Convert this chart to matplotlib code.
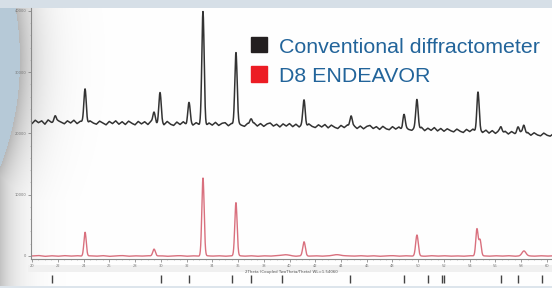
import numpy as np
import matplotlib.pyplot as plt
from matplotlib.patches import Rectangle

# posiciones (2theta) y alturas de picos
picos_conv_pos = [21.79, 24.12, 29.48, 29.94, 32.19, 33.28, 35.84, 37.01, 41.13,
                  44.78, 48.89, 49.90, 54.64, 56.43, 57.75, 58.21]
picos_conv_alt = [1150, 5550, 1800, 4900, 3350, 18100, 11800, 1050, 4250,
                  1950, 2300, 4800, 6350, 1000, 1250, 1500]

picos_d8_pos = [24.12, 29.48, 33.28, 35.84, 39.65, 41.13, 43.77, 49.90, 54.56, 54.80, 58.21]
picos_d8_alt = [3900, 1150, 12700, 8650, 200, 2280, 200, 3400, 4400, 2600, 800]
picos_d8_anc = [0.09, 0.10, 0.09, 0.09, 0.30, 0.10, 0.30, 0.10, 0.09, 0.09, 0.15]

# fondo (con ruido) del difractometro convencional, cada 0.25 grados desde 20
fondo_conv = [21600, 22150, 21750, 22050, 21500, 22200, 21800, 21650, 22100, 21850,
              21550, 22050, 21700, 22150, 21600, 22000, 21850, 21550, 22050, 21700,
              21500, 22000, 21700, 21400, 21950, 21600, 22050, 21500, 21900, 21450,
              22000, 21650, 21400, 21950, 21550, 21900, 21450, 22000, 21650, 21500,
              21850, 21400, 21950, 21500, 21300, 21850, 21450, 21900, 21400, 21800,
              21350, 21750, 21400, 21850, 21250, 21700, 21350, 21800, 21300, 21650,
              21750, 21250, 21650, 21200, 21700, 21350, 21150, 21650, 21300, 21700,
              21200, 21600, 21150, 21550, 21700, 21200, 21500, 21050, 21550, 21200,
              21600, 21100, 21500, 21050, 21450, 21000, 21550, 21150, 20950, 21400,
              21050, 21450, 20900, 21350, 21000, 20800, 21300, 20950, 21400, 20850,
              21250, 20800, 21200, 20750, 21150, 21300, 20800, 21100, 20650, 21150,
              20750, 20600, 21100, 20700, 21050, 20550, 21000, 20650, 20500, 20950,
              20600, 21000, 20450, 20850, 20500, 20950, 20400, 20800, 20350, 20750,
              20450, 20250, 20700, 20350, 20150, 20650, 20300, 20700, 20200, 20550,
              20150, 20550, 20050, 20450, 20000, 20400, 19950, 20350, 19900, 20300,
              19950, 19800, 20250, 19750, 20150, 19700, 20100, 19750, 19600, 20050,
              19700, 19550, 19950]

# fondo del D8 ENDEAVOR, cada 0.5 grados desde 20
fondo_d8 = [0, 80, -60, 40, -40, 60, -20, 50, -50, 30,
            -30, 60, -60, 20, 70, -40, 30, -20, 50, -30,
            40, -50, 20, 60, -40, 30, -30, 50, -20, 40,
            -40, 20, 60, -30, 40, -50, 30, -20, 50, -10,
            30, -40, 50, -20, 40, -30, 20, 60, -40, 30,
            -20, 50, -30, 40, -50, 20, 60, -30, 40, -20,
            30, -40, 50, -20, 40, -30, 20, -40, 50, -10,
            30, -30, 40, -20, 50, -40, 20, 30, -30, 40,
            -20, 30]

# lineas de referencia (barras abajo)
referencia = [21.55, 30.02, 32.19, 35.53, 37.01, 39.42, 44.70, 48.89, 50.76,
              51.85, 52.0, 56.43, 57.75, 59.61]

W, H = 552, 288
fig = plt.figure(figsize=(W / 100, H / 100), dpi=100)

# ---- fondo decorativo en coordenadas de pixel ----
yy, xx = np.mgrid[0:H, 0:W] + 0.5
img = np.ones((H, W, 3))
cx, cy, R = -280.0, 60.0, 300.0
dist = np.hypot(xx - cx, yy - cy) - R
sombra = 0.28 * np.exp(-np.clip(dist, 0, None) / 20.0) * (yy < 200)
sombra = np.maximum(sombra, 0.24 * np.exp(-xx / 16.0))
img = img * (1 - sombra[..., None])
img[dist < 0] = np.array([182, 201, 215]) / 255
img[yy < 8] = np.array([214, 223, 231]) / 255
img[(yy > 265) & (yy < 272) & (xx > 28)] = np.array([240, 240, 240]) / 255
img[yy > 286] = np.array([221, 229, 236]) / 255
bg = fig.add_axes([0, 0, 1, 1])
bg.imshow(img, extent=[0, W, H, 0], aspect='auto', interpolation='bilinear')
bg.set_xlim(0, W)
bg.set_ylim(H, 0)
bg.axis('off')
bg.add_patch(Rectangle((251, 37), 16, 15, color='#231f20'))
bg.add_patch(Rectangle((251, 66), 16, 16, color='#ec1c24'))

# ---- difractograma ----
x = np.arange(19.9, 60.5, 0.01)
base_x1 = 20 + 0.25 * np.arange(len(fondo_conv))
base_x2 = 20 + 0.5 * np.arange(len(fondo_d8))
conv = np.interp(x, base_x1, fondo_conv)
for p, a in zip(picos_conv_pos, picos_conv_alt):
    conv += a * np.exp(-0.5 * ((x - p) / 0.09) ** 2)
d8 = np.interp(x, base_x2, fondo_d8)
for p, a, s in zip(picos_d8_pos, picos_d8_alt, picos_d8_anc):
    d8 += a * np.exp(-0.5 * ((x - p) / s) ** 2)

ax = fig.add_axes([31 / W, (H - 259) / H, 521 / W, 251 / H])
ax.patch.set_alpha(0)
ax.plot(x, conv, color='#333333', lw=1.1)
ax.plot(x, d8, color='#d9707e', lw=1.0)
ax.set_xlim(19.92, 60.39)
ax.set_ylim(-490, 40457)
ax.set_xticks(np.arange(20, 61, 2))
ax.set_xticks(np.arange(20, 60.5, 0.5), minor=True)
ax.set_yticks(np.arange(0, 40001, 10000))
ax.set_yticks(np.arange(0, 40001, 2000), minor=True)
ax.tick_params(labelsize=2.6, colors='#777777', length=2, width=0.5, pad=1.5)
ax.tick_params(which='minor', length=1, width=0.4, colors='#999999')
for s in ['top', 'right']:
    ax.spines[s].set_visible(False)
for s in ['left', 'bottom']:
    ax.spines[s].set_color('#8a8a8a')
    ax.spines[s].set_linewidth(0.8)
ax.set_xlabel('2Theta (Coupled TwoTheta/Theta) WL=1.54060', fontsize=2.8,
              color='#555555', labelpad=0.5)
ax.xaxis.set_label_coords(0.5, -0.045)

# barras de referencia
ref = fig.add_axes([31 / W, (H - 285) / H, 521 / W, 11 / H])
ref.patch.set_alpha(0)
ref.vlines(referencia, 0.15, 0.9, color='#444444', lw=1.0)
ref.set_xlim(19.92, 60.39)
ref.set_ylim(0, 1)
ref.axis('off')

fig.text(279 / W, 1 - 53 / H, 'Conventional diffractometer', fontsize=15.4,
         family='Liberation Sans', color='#22649a', va='baseline')
fig.text(279 / W, 1 - 82 / H, 'D8 ENDEAVOR', fontsize=15.4,
         family='Liberation Sans', color='#22649a', va='baseline')

fig.savefig('out.png', dpi=100)
